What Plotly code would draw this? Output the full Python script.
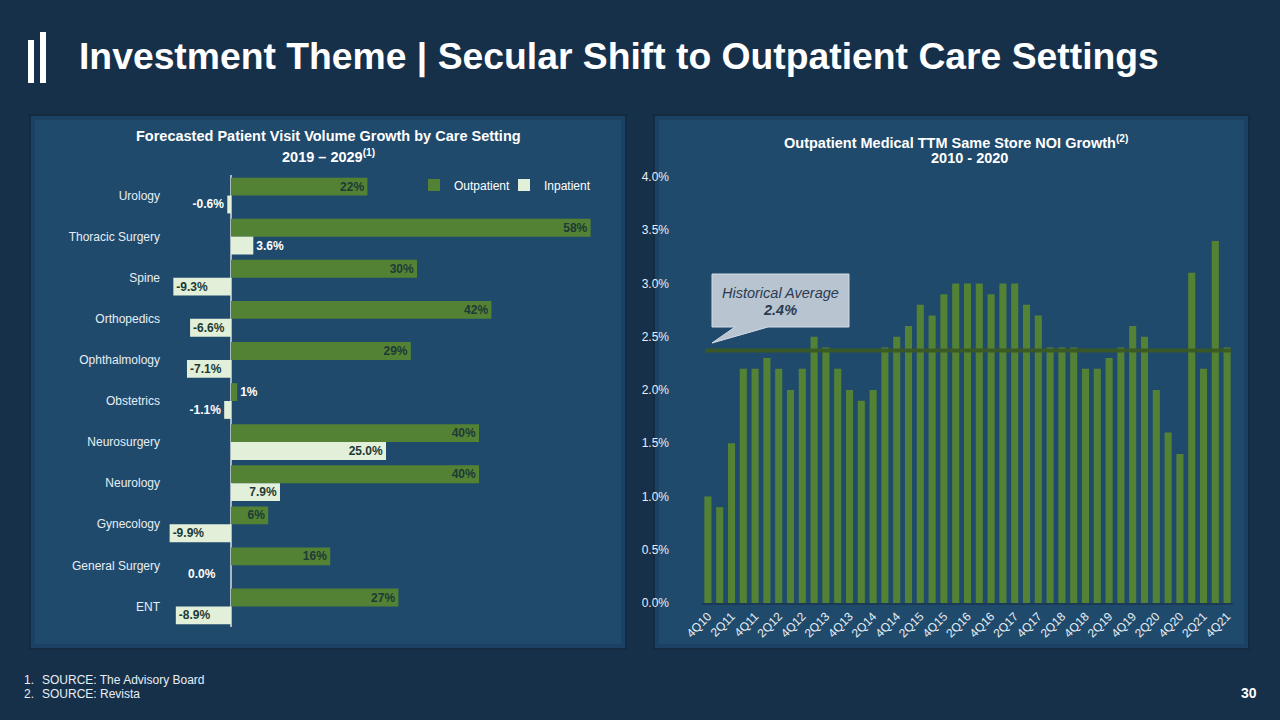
import plotly.graph_objects as go

W, H = 1280, 720
def px(x):
    return x / W
def py(y):
    return 1 - y / H

FONT = "Liberation Sans, Arial, sans-serif"

# ---------------- data ----------------
categories = ["Urology", "Thoracic Surgery", "Spine", "Orthopedics", "Ophthalmology",
              "Obstetrics", "Neurosurgery", "Neurology", "Gynecology",
              "General Surgery", "ENT"]
outpatient = [22, 58, 30, 42, 29, 1, 40, 40, 6, 16, 27]
inpatient = [-0.6, 3.6, -9.3, -6.6, -7.1, -1.1, 25.0, 7.9, -9.9, 0.0, -8.9]

quarters = ["4Q10",
            "1Q11", "2Q11", "3Q11", "4Q11",
            "1Q12", "2Q12", "3Q12", "4Q12",
            "1Q13", "2Q13", "3Q13", "4Q13",
            "1Q14", "2Q14", "3Q14", "4Q14",
            "1Q15", "2Q15", "3Q15", "4Q15",
            "1Q16", "2Q16", "3Q16", "4Q16",
            "1Q17", "2Q17", "3Q17", "4Q17",
            "1Q18", "2Q18", "3Q18", "4Q18",
            "1Q19", "2Q19", "3Q19", "4Q19",
            "1Q20", "2Q20", "3Q20", "4Q20",
            "1Q21", "2Q21", "3Q21", "4Q21"]
noi_growth = [1.0,
              0.9, 1.5, 2.2, 2.2,
              2.3, 2.2, 2.0, 2.2,
              2.5, 2.4, 2.2, 2.0,
              1.9, 2.0, 2.4, 2.5,
              2.6, 2.8, 2.7, 2.9,
              3.0, 3.0, 3.0, 2.9,
              3.0, 3.0, 2.8, 2.7,
              2.4, 2.4, 2.4, 2.2,
              2.2, 2.3, 2.4, 2.6,
              2.5, 2.0, 1.6, 1.4,
              3.1, 2.2, 3.4, 2.4]
hist_avg = 2.37
hist_avg_label = "2.4%"
x_ticks_shown = quarters[::2]
y_ticks = [0.0, 0.5, 1.0, 1.5, 2.0, 2.5, 3.0, 3.5, 4.0]

# ---------------- style ----------------
BG = "#17304a"
PANEL = "#1f4a6c"
GREEN = "#548235"
LIGHT = "#e2efd9"
DARKTXT = "#1d3a36"
WHITE = "#ffffff"
LABEL = "#e8eef4"

fig = go.Figure()

txt_in = dict(color=DARKTXT, size=12, family=FONT, weight="bold")
txt_out = dict(color=WHITE, size=12, family=FONT, weight="bold")

# Left chart: horizontal grouped bars
fig.add_trace(go.Bar(
    y=categories, x=outpatient, orientation="h", name="Outpatient",
    marker=dict(color=GREEN, line=dict(width=0)),
    text=[f"{v}%" for v in outpatient], textposition="auto",
    insidetextanchor="end", textangle=0, constraintext="none",
    insidetextfont=txt_in, outsidetextfont=txt_out,
    cliponaxis=False, xaxis="x", yaxis="y", hoverinfo="skip",
))
fig.add_trace(go.Bar(
    y=categories, x=inpatient, orientation="h", name="Inpatient",
    marker=dict(color=LIGHT, line=dict(width=0)),
    text=[f"{v:.1f}%" if v != 0 else "" for v in inpatient], textposition="auto",
    insidetextanchor="end", textangle=0, constraintext="none",
    insidetextfont=txt_in, outsidetextfont=txt_out,
    cliponaxis=False, xaxis="x", yaxis="y", hoverinfo="skip",
))

# Right chart: vertical bars
fig.add_trace(go.Bar(
    x=quarters, y=noi_growth, width=0.6, showlegend=False,
    marker=dict(color=GREEN, line=dict(width=0)),
    xaxis="x2", yaxis="y2", hoverinfo="skip",
))

shapes = []
# panels with soft shadow
for (x0, x1) in [(31, 625), (655, 1248)]:
    shapes.append(dict(type="rect", xref="paper", yref="paper", layer="below",
                       x0=px(x0 - 2), x1=px(x1 + 2), y0=py(650), y1=py(114),
                       fillcolor="#132a40", line=dict(width=0)))
    shapes.append(dict(type="rect", xref="paper", yref="paper", layer="below",
                       x0=px(x0), x1=px(x1), y0=py(648), y1=py(116),
                       fillcolor="#1b4262", line=dict(width=0)))
    shapes.append(dict(type="rect", xref="paper", yref="paper", layer="below",
                       x0=px(x0 + 4), x1=px(x1 - 4), y0=py(644), y1=py(120),
                       fillcolor=PANEL, line=dict(width=0)))

# logo bars
shapes.append(dict(type="rect", xref="paper", yref="paper", x0=px(28), x1=px(34),
                   y0=py(83), y1=py(40), fillcolor=WHITE, line=dict(width=0)))
shapes.append(dict(type="rect", xref="paper", yref="paper", x0=px(40), x1=px(46),
                   y0=py(83), y1=py(32), fillcolor=WHITE, line=dict(width=0)))

# historical average line
shapes.append(dict(type="line", xref="paper", yref="y2", x0=px(705), x1=px(1231),
                   y0=hist_avg, y1=hist_avg,
                   line=dict(color="rgba(58,88,36,0.95)", width=4), layer="above"))

# callout
pts = [(712, 274), (849, 274), (849, 327), (768, 327), (712, 343), (735, 327), (712, 327)]
path = "M " + " L ".join(f"{px(a):.5f},{py(b):.5f}" for a, b in pts) + " Z"
shapes.append(dict(type="path", xref="paper", yref="paper", path=path,
                   fillcolor="#b8c4d0", line=dict(color="#d5dde6", width=1), layer="above"))

annotations = [
    dict(text="<b>Investment Theme | Secular Shift to Outpatient Care Settings</b>",
         x=px(77), y=py(57), xref="paper", yref="paper", xanchor="left", yanchor="middle",
         showarrow=False, font=dict(family=FONT, size=37.3, color=WHITE)),
    dict(text="<b>Forecasted Patient Visit Volume Growth by Care Setting</b>",
         x=px(328), y=py(136), xref="paper", yref="paper", xanchor="center", yanchor="middle",
         showarrow=False, font=dict(family=FONT, size=14.5, color=WHITE)),
    dict(text="<b>2019 – 2029<sup>(1)</sup></b>",
         x=px(328), y=py(156), xref="paper", yref="paper", xanchor="center", yanchor="middle",
         showarrow=False, font=dict(family=FONT, size=14.5, color=WHITE)),
    dict(text="<b>Outpatient Medical TTM Same Store NOI Growth<sup>(2)</sup></b>",
         x=px(956), y=py(142), xref="paper", yref="paper", xanchor="center", yanchor="middle",
         showarrow=False, font=dict(family=FONT, size=14.5, color=WHITE)),
    dict(text="<b>2010 - 2020</b>",
         x=px(969), y=py(158), xref="paper", yref="paper", xanchor="center", yanchor="middle",
         showarrow=False, font=dict(family=FONT, size=14.5, color=WHITE)),
    dict(text="<i>Historical Average</i>",
         x=px(780), y=py(293), xref="paper", yref="paper", xanchor="center", yanchor="middle",
         showarrow=False, font=dict(family=FONT, size=14.5, color="#2b3b52")),
    dict(text=f"<b><i>{hist_avg_label}</i></b>",
         x=px(780), y=py(310), xref="paper", yref="paper", xanchor="center", yanchor="middle",
         showarrow=False, font=dict(family=FONT, size=14.5, color="#2b3b52")),
    dict(text="1.", x=px(22), y=py(680), xref="paper", yref="paper", xanchor="left",
         yanchor="middle", showarrow=False, font=dict(family=FONT, size=12, color=LABEL)),
    dict(text="SOURCE: The Advisory Board", x=px(40), y=py(680), xref="paper", yref="paper",
         xanchor="left", yanchor="middle", showarrow=False,
         font=dict(family=FONT, size=12, color=LABEL)),
    dict(text="2.", x=px(22), y=py(694), xref="paper", yref="paper", xanchor="left",
         yanchor="middle", showarrow=False, font=dict(family=FONT, size=12, color=LABEL)),
    dict(text="SOURCE: Revista", x=px(40), y=py(694), xref="paper", yref="paper",
         xanchor="left", yanchor="middle", showarrow=False,
         font=dict(family=FONT, size=12, color=LABEL)),
    dict(text="<b>30</b>", x=px(1259), y=py(693), xref="paper", yref="paper",
         xanchor="right", yanchor="middle", showarrow=False,
         font=dict(family=FONT, size=14, color=WHITE)),
]

# labels for zero-valued inpatient bars (plotly draws no text for them)
for cat, v in zip(categories, inpatient):
    if v == 0:
        annotations.append(dict(text=f"<b>{v:.1f}%</b>", x=v, y=cat, xref="x", yref="y",
                                xanchor="right", yanchor="middle", xshift=-13, yshift=-9,
                                showarrow=False, font=dict(family=FONT, size=12, color=WHITE)))

fig.update_layout(
    width=W, height=H, margin=dict(l=0, r=0, t=0, b=0, autoexpand=False),
    paper_bgcolor=BG, plot_bgcolor="rgba(0,0,0,0)",
    font=dict(family=FONT, color=LABEL),
    barmode="group", bargap=0.13, bargroupgap=0.0,
    showlegend=True,
    legend=dict(orientation="h", x=px(414), y=py(185), xanchor="left", yanchor="middle",
                font=dict(family=FONT, size=12, color=WHITE), bgcolor="rgba(0,0,0,0)",
                itemwidth=30, entrywidth=45, traceorder="normal"),
    xaxis=dict(domain=[px(169), px(603)], range=[-10, 60], showgrid=False,
               showticklabels=False, ticks="", showline=False, automargin=False,
               zeroline=True, zerolinecolor="#a9b8c6", zerolinewidth=1.5),
    yaxis=dict(domain=[py(627), py(175)], type="category", autorange="reversed",
               showgrid=False, zeroline=False, ticks="", showline=False, automargin=False,
               tickfont=dict(family=FONT, size=12, color=LABEL), ticklabelstandoff=8),
    xaxis2=dict(domain=[px(702), px(1233)], type="category", anchor="y2",
                tickvals=x_ticks_shown, ticktext=x_ticks_shown, tickangle=-45,
                tickfont=dict(family=FONT, size=12, color=LABEL), ticks="",
                showgrid=False, showline=True, linecolor="#1a3a55", linewidth=1.5,
                zeroline=False, automargin=False),
    yaxis2=dict(domain=[py(603), py(177)], range=[0, 4.0], anchor="x2",
                tickvals=y_ticks, ticktext=[f"{v:.1f}%" for v in y_ticks],
                tickfont=dict(family=FONT, size=12, color=LABEL), ticks="",
                showgrid=False, zeroline=False, showline=False, ticklabelstandoff=32,
                automargin=False),
    shapes=shapes, annotations=annotations,
)

fig.write_html("out.html")
